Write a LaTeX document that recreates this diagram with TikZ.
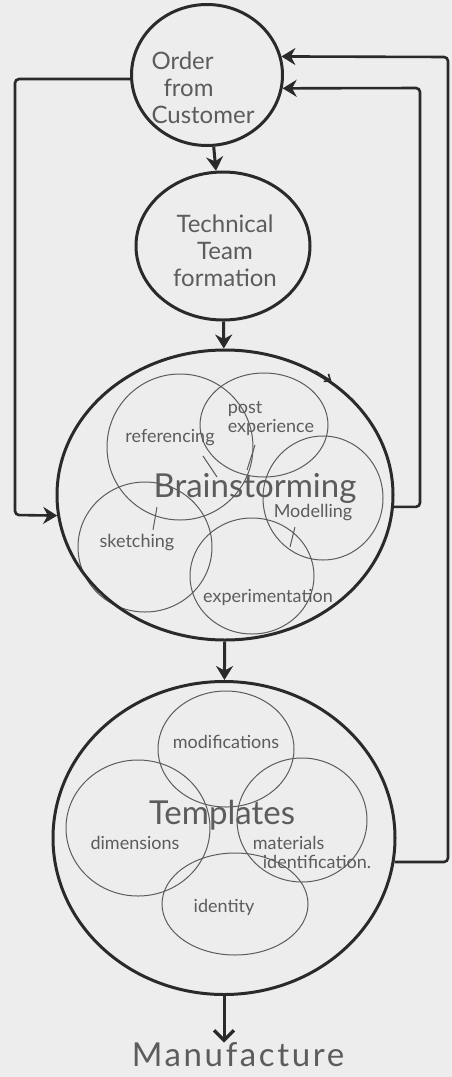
\documentclass[tikz,border=0pt]{standalone}
\usepackage{fontspec}
\setmainfont{Lato}
\usepackage{xcolor}
\usepackage{tikz}
\usetikzlibrary{positioning, arrows.meta, shapes.geometric}

\definecolor{paper}{HTML}{EDEDED}
\definecolor{ink}{HTML}{2A2A2A}
\definecolor{pencil}{HTML}{5C5C5C}

\begin{document}
\begin{tikzpicture}[x=1pt, y=-1pt,
        stage/.style={ellipse, draw=ink, line width=3pt, inner sep=0pt},
        flow/.style={draw=ink, line width=3pt, -{Stealth[length=14pt, width=17pt]}},
        loop/.style={draw=ink, line width=2.6pt, rounded corners=4pt},
        ring/.style={draw=pencil, line width=1pt},
        body/.style={text=pencil, font=\fontsize{24}{27}\selectfont},
        title/.style={text=pencil, font=\fontsize{33}{35}\selectfont},
        tag/.style={text=pencil, font=\fontsize{18}{19}\selectfont, inner sep=1pt}]
        % Paper
        \fill[paper] (0,0) rectangle (452,1077);
        \useasboundingbox (0,0) rectangle (452,1077);

        % Overlapping rings inside the two big stages
        \foreach \cx/\cy/\rx/\ry in {180/447/73/73, 264/425/64/52, 323/498/60/62,
                145/547/67/65, 252/576/62/58,
                226/749/68/58, 138/828/72/68, 302/820/65/62, 235/904/73/51}
            \draw[ring] (\cx,\cy) ellipse [x radius=\rx, y radius=\ry];
        % little strokes toward the centre
        \foreach \a/\b/\c/\d in {203/456/217/477, 255/445/247/470, 157/507/153/530, 295/527/290/547}
            \draw[ring] (\a,\b) -- (\c,\d);

        % Stages
        \node[stage, minimum width=151pt, minimum height=141pt] (order) at (207,75) {};
        \node[stage, minimum width=174pt, minimum height=148pt] (tech) at (223,246) {};
        \node[stage, minimum width=336pt, minimum height=290pt] (brain) at (225,495) {};
        \node[stage, minimum width=342pt, minimum height=313pt] (templates) at (224,838) {};

        % Texts
        \node[body, align=left] (ordertxt) at (203,88) {Order\\\hspace*{12pt}from\\Customer};
        \node[body, align=center] (techtxt) at (225,251) {Technical\\Team\\formation};
        \node[title] (braintxt) at (255,488) {Brainstorming};
        \node[title] (templtxt) at (222,815) {Templates};
        \node[title, inner sep=0pt, font=\fontsize{33}{35}\selectfont\addfontfeatures{LetterSpace=8}] (manuf) at (238,1055) {Manufacture};

        \node[tag] (refer) at (170,438) {referencing};
        \node[tag, align=left] (past) at (271,418) {post\\experience};
        \node[tag] (model) at (313,513) {Modelling};
        \node[tag] (sketch) at (137,543) {sketching};
        \node[tag] (exper) at (268,597) {experimentation};
        \node[tag] (modif) at (226,742) {modifications};
        \node[tag] (dimen) at (135,843) {dimensions};
        \node[tag, align=left] (mater) at (312,852) {materials\\\hspace*{10pt}identification.};
        \node[tag] (ident) at (224,907) {identity};

        % Main flow
        \draw[flow] (order) -- (tech);
        \draw[flow] (tech) -- (brain);
        \draw[flow] (brain) -- (templates);
        \draw[draw=ink, line width=3pt, -{Straight Barb[length=10pt, width=20pt, line width=3.4pt]}]
            (templates.south) -- (templates.south |- manuf.north);
        \draw[draw=ink, line width=1.6pt, -{Straight Barb[length=5pt, width=9pt]}] (brain.54) -- (brain.47);

        % Feedback loops
        \coordinate (lft) at (15,515);
        \coordinate (rin) at (420,88);
        \coordinate (rout) at (448,57);
        \draw[loop, -{Stealth[length=14pt, width=17pt]}] (order.183) -| (lft) -- (brain.187);
        \draw[loop, -{Stealth[length=14pt, width=17pt]}] (brain.-4) -| (rin) -- (order.-10);
        \draw[loop, -{Stealth[length=14pt, width=17pt]}] (templates.-8) -| (rout) -- (order.14);
\end{tikzpicture}
\end{document}
